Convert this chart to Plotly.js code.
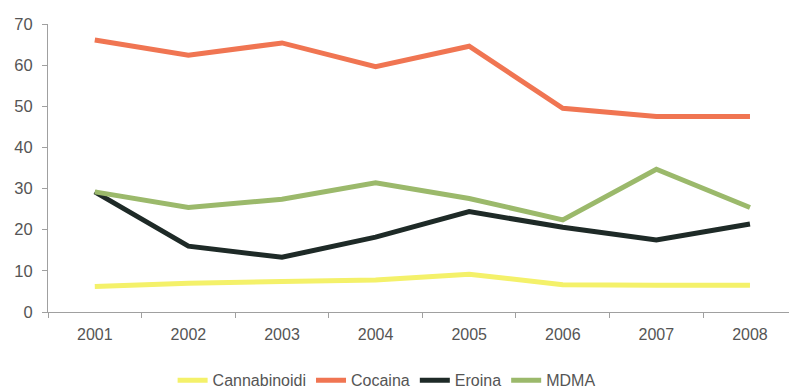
<!DOCTYPE html>
<html>
<head>
<meta charset="utf-8">
<script src="https://cdn.plot.ly/plotly-3.0.1.min.js"></script>
<style>html,body{margin:0;padding:0;background:#fff;}#chart{width:789px;height:388px;}</style>
</head>
<body>
<div id="chart"></div>
<script>
const years = ['2001','2002','2003','2004','2005','2006','2007','2008'];
const cannabinoidi = [6.2, 7.0, 7.4, 7.8, 9.2, 6.6, 6.5, 6.5];
const cocaina = [66.1, 62.4, 65.4, 59.6, 64.6, 49.5, 47.5, 47.5];
const eroina = [29.2, 16.0, 13.3, 18.2, 24.4, 20.6, 17.5, 21.4];
const mdma = [29.2, 25.4, 27.4, 31.4, 27.6, 22.4, 34.7, 25.4];
const yTicks = [0, 10, 20, 30, 40, 50, 60, 70];

const mk = (name, y, color) => ({
  x: years, y: y, name: name, type: 'scatter', mode: 'lines',
  line: {color: color, width: 5}
});

const data = [
  mk('Cannabinoidi', cannabinoidi, '#f4f16a'),
  mk('Cocaina', cocaina, '#f07552'),
  mk('Eroina', eroina, '#1e2a27'),
  mk('MDMA', mdma, '#9bb96b')
];

const layout = {
  width: 789, height: 388,
  margin: {l: 48, r: 0, t: 24, b: 76, autoexpand: false},
  paper_bgcolor: '#ffffff', plot_bgcolor: '#ffffff',
  font: {family: 'Liberation Sans, Arial, sans-serif', size: 16, color: '#555555'},
  showlegend: true,
  legend: {orientation: 'h', xref: 'container', yref: 'container',
           x: 0.49, xanchor: 'center', y: 0.02, yanchor: 'middle',
           font: {size: 16, color: '#555555'}, tracegroupgap: 0},
  xaxis: {
    type: 'category', range: [-0.5, 7.417], showgrid: false, zeroline: false,
    showline: true, linecolor: '#a0a0a0', linewidth: 1,
    ticks: 'outside', tickson: 'boundaries', ticklen: 5, tickcolor: '#a0a0a0',
    ticklabelstandoff: 8,
    tickfont: {size: 16, color: '#555555'}
  },
  yaxis: {
    range: [0, 70], tickvals: yTicks, ticktext: yTicks.map(String),
    showgrid: false, zeroline: false,
    showline: true, linecolor: '#a0a0a0', linewidth: 1,
    ticks: 'outside', ticklen: 5, tickcolor: '#a0a0a0',
    ticklabelstandoff: 6,
    tickfont: {size: 16.5, color: '#555555'}
  }
};

Plotly.newPlot('chart', data, layout, {displayModeBar: false, staticPlot: true});
</script>
</body>
</html>
